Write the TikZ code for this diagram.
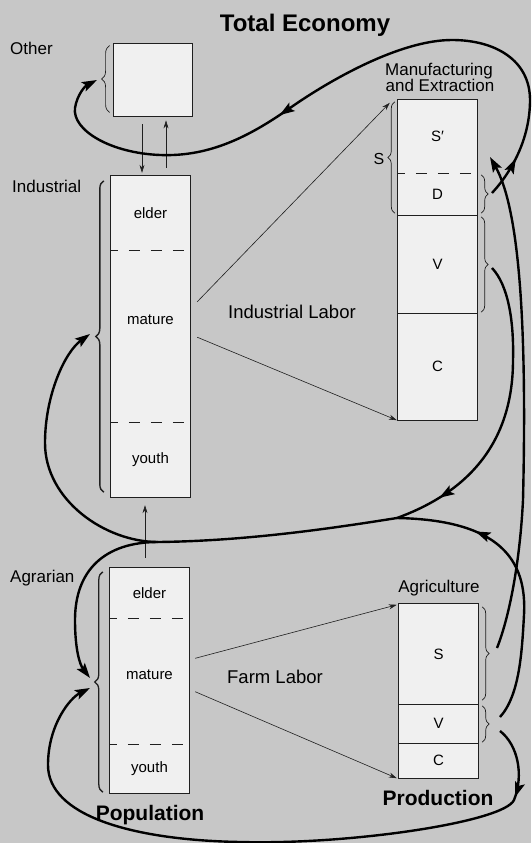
\documentclass[tikz,border=0pt]{standalone}
\usepackage{fontspec}
\setmainfont{Liberation Sans}
\usetikzlibrary{arrows.meta,decorations.pathreplacing,decorations.markings}
\definecolor{paperGray}{gray}{0.78}
\definecolor{cellGray}{gray}{0.94}
\definecolor{inkGray}{gray}{0.12}

\begin{document}
\begin{tikzpicture}[x=1pt, y=-1pt,
    cellStyle/.style={rectangle, fill=cellGray, minimum width=79pt, inner sep=0pt, font=\fontsize{15}{15}\selectfont},
    textStyle/.style={inner sep=0pt, font=\fontsize{17}{17}\selectfont},
    laborText/.style={inner sep=0pt, font=\fontsize{18.5}{18.5}\selectfont},
    headStyle/.style={inner sep=0pt, font=\bfseries\fontsize{21}{21}\selectfont},
    outlineStyle/.style={draw=inkGray, line width=0.8pt},
    cutStyle/.style={draw=inkGray, line width=0.9pt, dash pattern=on 11pt off 11pt, dash phase=4pt},
    thinArrow/.style={->, >={Stealth[length=8pt, width=5pt]}, line width=0.6pt, draw=inkGray},
    flowStyle/.style={line width=2.4pt, >={Stealth[length=15pt, width=10pt, inset=3pt]}},
    flowMark/.style={postaction={decorate, decoration={markings, mark=at position #1 with {\arrow{>}}}}},
    braceStyle/.style={decorate, decoration={brace, amplitude=#1}, draw=inkGray, line width=0.7pt}]

    \fill[paperGray] (0,0) rectangle (531,843);
    \useasboundingbox (0,0) rectangle (531,843);

    \node[cellStyle, outlineStyle, minimum height=73pt] (oth) at (152.5,79.5) {};

    \node[cellStyle, minimum height=74pt]  (ind_elder)  at (150.5,213)   {elder};
    \node[cellStyle, minimum height=173pt] (ind_mature) at (150.5,336.5) {};
    \node[cellStyle, minimum height=74pt]  (ind_youth)  at (150.5,460)   {youth};
    \node[cellStyle, fill=none, minimum width=93pt, minimum height=35pt] (ind_m) at (150.5,319.5) {mature};
    \draw[outlineStyle] (ind_elder.north west) rectangle (ind_youth.south east);
    \draw[cutStyle] (ind_elder.south west) -- (ind_elder.south east);
    \draw[cutStyle] (ind_youth.north west) -- (ind_youth.north east);

    \node[cellStyle, minimum height=50pt]  (agr_elder)  at (149.5,593)   {elder};
    \node[cellStyle, minimum height=127pt] (agr_mature) at (149.5,681.5) {};
    \node[cellStyle, minimum height=48pt]  (agr_youth)  at (149.5,769)   {youth};
    \node[cellStyle, fill=none, minimum width=91pt, minimum height=33pt] (agr_m) at (149.5,675) {mature};
    \draw[outlineStyle] (agr_elder.north west) rectangle (agr_youth.south east);
    \draw[cutStyle] (agr_elder.south west) -- (agr_elder.south east);
    \draw[cutStyle] (agr_youth.north west) -- (agr_youth.north east);

    \node[cellStyle, minimum height=73pt]  (mfg_S) at (437.5,136.5) {S′};
    \node[cellStyle, minimum height=42pt]  (mfg_D) at (437.5,194)   {D};
    \node[cellStyle, minimum height=98pt]  (mfg_V) at (437.5,264)   {V};
    \node[cellStyle, minimum height=107pt] (mfg_C) at (437.5,366.5) {C};
    \draw[outlineStyle] (mfg_S.north west) rectangle (mfg_C.south east);
    \draw[cutStyle] (mfg_S.south west) -- (mfg_S.south east);
    \draw[outlineStyle] (mfg_D.south west) -- (mfg_D.south east);
    \draw[outlineStyle] (mfg_V.south west) -- (mfg_V.south east);

    \node[cellStyle, minimum height=100pt] (farm_S) at (438.5,654)   {S};
    \node[cellStyle, minimum height=39pt]  (farm_V) at (438.5,723.5) {V};
    \node[cellStyle, minimum height=35pt]  (farm_C) at (438.5,760.5) {C};
    \draw[outlineStyle] (farm_S.north west) rectangle (farm_C.south east);
    \draw[outlineStyle] (farm_S.south west) -- (farm_S.south east);
    \draw[outlineStyle] (farm_V.south west) -- (farm_V.south east);

    \node[headStyle, font=\bfseries\fontsize{24}{24}\selectfont, anchor=base] (title) at (305,32) {Total Economy};
    \node[textStyle, anchor=base west] (oth_lbl) at (10,55)  {Other};
    \node[textStyle, anchor=base west] (ind_lbl) at (12,192) {Industrial};
    \node[textStyle, anchor=base west] (agr_lbl) at (10,582) {Agrarian};
    \node[textStyle, anchor=base] (mfg_lbl1) at (439,75)  {Manufacturing};
    \node[textStyle, anchor=base] (mfg_lbl2) at (440,92)  {and Extraction};
    \node[textStyle, anchor=base] (farm_lbl) at (439,592) {Agriculture};
    \node[textStyle, font=\fontsize{16}{16}\selectfont, anchor=base] (mfg_Slbl) at (379,164) {S};
    \node[laborText, anchor=base] (ind_labor)  at (292,318) {Industrial Labor};
    \node[laborText, anchor=base] (farm_labor) at (275,683) {Farm Labor};
    \node[headStyle, anchor=base] (pop_lbl)  at (150,820) {Population};
    \node[headStyle, anchor=base] (prod_lbl) at (438,805) {Production};

    \draw[braceStyle=8pt] ([shift={(-3,-4)}]oth.south west) -- ([shift={(-3,3)}]oth.north west);
    \draw[braceStyle=8pt, line width=1.4pt] ([shift={(-7,-5)}]ind_youth.south west) -- ([shift={(-7,5)}]ind_elder.north west);
    \draw[braceStyle=8pt, line width=1.3pt] ([shift={(-7,-1)}]agr_youth.south west) -- ([shift={(-7,4)}]agr_elder.north west);
    \draw[braceStyle=7pt] ([shift={(-3,-2)}]mfg_D.south west) -- ([shift={(-3,2)}]mfg_S.north west);
    \draw[braceStyle=7pt] ([shift={(4,2)}]mfg_D.north east) -- ([shift={(4,-2)}]mfg_D.south east);
    \draw[braceStyle=7pt] ([shift={(4,2)}]mfg_V.north east) -- ([shift={(4,-1)}]mfg_V.south east);
    \draw[braceStyle=7pt] ([shift={(4,3)}]farm_S.north east) -- ([shift={(4,-4)}]farm_S.south east);
    \draw[braceStyle=7pt] ([shift={(4,2)}]farm_V.north east) -- ([shift={(4,-1)}]farm_V.south east);

    \coordinate (oth_in)      at (97,80);
    \coordinate (ind_in)      at (90,334);
    \coordinate (agr_in_top)  at (90,678);
    \coordinate (agr_in_bot)  at (90,688);
    \coordinate (mfg_D_out)   at (492,193);
    \coordinate (mfg_V_out)   at (492,268);
    \coordinate (mfg_S_in)    at (490,157);
    \coordinate (farm_S_out)  at (497,648);
    \coordinate (farm_V_out1) at (500,717);
    \coordinate (farm_V_out2) at (500,731);
    \coordinate (merge)       at (397,518);
    \coordinate (split)       at (158,542);

    \draw[thinArrow] ([shift={(-10.5,8)}]oth.south) -- ([shift={(-8.5,-3)}]ind_elder.north);
    \draw[thinArrow] ([shift={(15.5,-8)}]ind_elder.north) -- ([shift={(13.5,4)}]oth.south);
    \draw[thinArrow] ([shift={(-4.5,-10)}]agr_elder.north) -- ([shift={(-5.5,8)}]ind_youth.south);

    \draw[thinArrow] (ind_m.north east) -- ([shift={(-8,3)}]mfg_S.north west);
    \draw[thinArrow] (ind_m.south east) -- ([shift={(-1,0)}]mfg_C.south west);
    \draw[thinArrow] (agr_m.north east) -- ([shift={(-2,1)}]farm_S.north west);
    \draw[thinArrow] (agr_m.south east) -- ([shift={(-2,0)}]farm_C.south west);

    \draw[flowStyle, ->, flowMark=42pt, flowMark=404pt] (mfg_D_out)
        .. controls (515,168) and (530,135) .. (530,100)
        .. controls (530,60) and (495,40) .. (452,40)
        .. controls (400,40) and (330,80) .. (290,108)
        .. controls (250,136) and (210,157) .. (160,155)
        .. controls (110,153) and (72,130) .. (75,108)
        .. controls (77,95) and (85,86) .. (oth_in);
    \draw[flowStyle, ->] (farm_S_out)
        .. controls (510,615) and (520,560) .. (523,500)
        .. controls (527,330) and (520,210) .. (mfg_S_in);
    \draw[flowStyle, flowMark=-47pt] (mfg_V_out)
        .. controls (508,285) and (514,320) .. (513,360)
        .. controls (513,450) and (460,495) .. (merge);
    \draw[flowStyle, flowMark=-80pt] (farm_V_out1)
        .. controls (520,695) and (522,650) .. (524,615)
        .. controls (527,560) and (500,520) .. (merge);
    \draw[flowStyle] (merge) .. controls (340,527) and (250,541) .. (split);
    \draw[flowStyle, ->] (split)
        .. controls (105,542) and (45,500) .. (45,443)
        .. controls (45,395) and (65,352) .. (ind_in);
    \draw[flowStyle, ->] (split)
        .. controls (105,542) and (75,570) .. (75,620)
        .. controls (75,650) and (80,665) .. (agr_in_top);
    \draw[flowStyle, ->, flowMark=72pt] (farm_V_out2)
        .. controls (518,745) and (524,775) .. (514,800)
        .. controls (504,822) and (350,845) .. (240,842)
        .. controls (130,840) and (48,815) .. (48,765)
        .. controls (48,725) and (70,698) .. (agr_in_bot);
\end{tikzpicture}
\end{document}
